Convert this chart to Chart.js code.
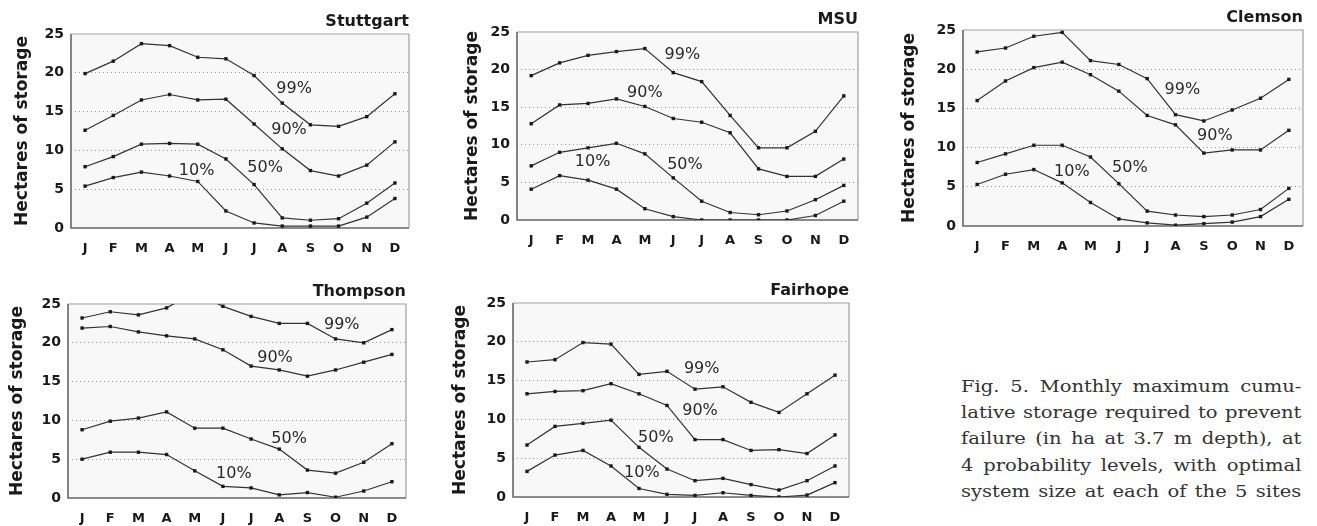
<!DOCTYPE html>
<html lang="en">
<head>
<meta charset="UTF-8">
<title>Fig. 5 Monthly maximum cumulative storage</title>
<script src="https://cdn.jsdelivr.net/npm/chart.js"></script>
<style>
    body { margin: 0; background: #fff; width: 1317px; height: 526px; position: relative; overflow: hidden; }
    .panel { position: absolute; }
    .caption {
        position: absolute; left: 961px; top: 374px; width: 279px;
        font-family: 'DejaVu Serif', serif; font-size: 16px; line-height: 26.2px; color: #333;
        transform: scaleX(1.22); transform-origin: 0 0;
    }
    .caption div { text-align: justify; text-align-last: justify; white-space: nowrap; }
</style>
</head>
<body>
<div class="caption">
    <div>Fig. 5. Monthly maximum cumu-</div>
    <div>lative storage required to prevent</div>
    <div>failure (in ha at 3.7 m depth), at</div>
    <div>4 probability levels, with optimal</div>
    <div>system size at each of the 5 sites</div>
</div>
<script>
// months and probability levels
const months = ['J', 'F', 'M', 'A', 'M', 'J', 'J', 'A', 'S', 'O', 'N', 'D'];
const levels = ['99%', '90%', '50%', '10%'];
const yTicks = [0, 5, 10, 15, 20, 25];

// hectares of storage
const stuttgart99 = [19.9, 21.5, 23.75, 23.5, 22.0, 21.8, 19.65, 16.1, 13.3, 13.1, 14.35, 17.3];
const stuttgart90 = [12.6, 14.5, 16.5, 17.2, 16.5, 16.6, 13.4, 10.2, 7.4, 6.7, 8.1, 11.1];
const stuttgart50 = [7.9, 9.2, 10.8, 10.9, 10.8, 8.9, 5.6, 1.3, 1.0, 1.2, 3.2, 5.8];
const stuttgart10 = [5.4, 6.5, 7.2, 6.7, 6.0, 2.2, 0.65, 0.25, 0.25, 0.25, 1.4, 3.8];

const msu99 = [19.2, 20.9, 21.9, 22.4, 22.8, 19.6, 18.4, 13.9, 9.6, 9.6, 11.8, 16.5];
const msu90 = [12.8, 15.3, 15.5, 16.1, 15.1, 13.5, 13.0, 11.6, 6.8, 5.8, 5.8, 8.1];
const msu50 = [7.2, 9.0, 9.6, 10.2, 8.8, 5.6, 2.5, 1.0, 0.7, 1.2, 2.7, 4.6];
const msu10 = [4.1, 5.9, 5.3, 4.1, 1.5, 0.45, 0, 0, 0, 0, 0.6, 2.5];

const clemson99 = [22.2, 22.7, 24.2, 24.7, 21.1, 20.6, 18.8, 14.2, 13.4, 14.8, 16.3, 18.7];
const clemson90 = [16.0, 18.5, 20.2, 20.9, 19.3, 17.2, 14.1, 12.9, 9.3, 9.7, 9.7, 12.2];
const clemson50 = [8.1, 9.2, 10.3, 10.3, 8.8, 5.4, 1.9, 1.4, 1.2, 1.4, 2.1, 4.8];
const clemson10 = [5.3, 6.6, 7.2, 5.5, 3.0, 0.9, 0.4, 0.1, 0.3, 0.5, 1.2, 3.4];

const thompson99 = [23.2, 24.0, 23.6, 24.5, 26.5, 24.7, 23.4, 22.5, 22.5, 20.5, 20.0, 21.7];
const thompson90 = [21.9, 22.1, 21.4, 20.9, 20.5, 19.1, 17.0, 16.5, 15.7, 16.5, 17.5, 18.5];
const thompson50 = [8.8, 9.9, 10.3, 11.1, 9.0, 9.0, 7.6, 6.3, 3.6, 3.2, 4.6, 7.0];
const thompson10 = [5.0, 5.9, 5.9, 5.6, 3.5, 1.5, 1.3, 0.4, 0.7, 0.1, 0.9, 2.1];

const fairhope99 = [17.4, 17.7, 19.9, 19.7, 15.8, 16.2, 13.9, 14.2, 12.2, 10.9, 13.3, 15.7];
const fairhope90 = [13.3, 13.6, 13.7, 14.6, 13.3, 11.8, 7.4, 7.4, 6.0, 6.1, 5.6, 8.0];
const fairhope50 = [6.7, 9.1, 9.5, 9.9, 6.4, 3.6, 2.1, 2.4, 1.6, 0.9, 2.1, 4.0];
const fairhope10 = [3.3, 5.4, 6.0, 4.0, 1.1, 0.35, 0.2, 0.55, 0.2, 0, 0.25, 1.85];

// where the level labels sit, in [month index, hectares]
const stuttgartLabelAt = [[7.42, 17.95], [7.24, 12.6], [6.39, 7.7], [3.96, 7.4]];
const msuLabelAt = [[5.32, 21.9], [4.0, 16.85], [5.41, 7.36], [2.16, 7.76]];
const clemsonLabelAt = [[7.24, 17.35], [8.39, 11.5], [5.39, 7.36], [3.34, 6.93]];
const thompsonLabelAt = [[9.22, 22.3], [6.85, 18.1], [7.35, 7.56], [5.39, 3.05]];
const fairhopeLabelAt = [[6.24, 16.5], [6.18, 11.1], [4.6, 7.56], [4.1, 3.05]];

const panels = [
    { title: 'Stuttgart', series: [stuttgart99, stuttgart90, stuttgart50, stuttgart10], labelAt: stuttgartLabelAt,
      box: { left: 71, right: 409, top: 34, bottom: 228 }, titleGap: 48 },
    { title: 'MSU', series: [msu99, msu90, msu50, msu10], labelAt: msuLabelAt,
      box: { left: 517, right: 858, top: 32, bottom: 220 }, titleGap: 44 },
    { title: 'Clemson', series: [clemson99, clemson90, clemson50, clemson10], labelAt: clemsonLabelAt,
      box: { left: 963, right: 1303, top: 30, bottom: 226 }, titleGap: 53 },
    { title: 'Thompson', series: [thompson99, thompson90, thompson50, thompson10], labelAt: thompsonLabelAt,
      box: { left: 68, right: 406, top: 304, bottom: 498 }, titleGap: 50 },
    { title: 'Fairhope', series: [fairhope99, fairhope90, fairhope50, fairhope10], labelAt: fairhopeLabelAt,
      box: { left: 513, right: 849, top: 303, bottom: 497 }, titleGap: 52 }
];

const Y_W = 76, PAD_T = 36, PAD_R = 6, X_H = 28;

// plot background, frame, site name and % labels
const panelDecor = {
    id: 'panelDecor',
    beforeDraw(chart) {
        const a = chart.chartArea, ctx = chart.ctx;
        ctx.save();
        ctx.fillStyle = '#f8f8f8';
        ctx.fillRect(a.left, a.top, a.right - a.left, a.bottom - a.top);
        ctx.restore();
    },
    beforeDatasetsDraw(chart) {
        const a = chart.chartArea, ctx = chart.ctx;
        ctx.save();
        ctx.strokeStyle = '#a0a0a0';
        ctx.lineWidth = 1.2;
        ctx.beginPath();
        ctx.moveTo(a.left, a.top); ctx.lineTo(a.right, a.top); ctx.lineTo(a.right, a.bottom);
        ctx.stroke();
        ctx.strokeStyle = '#666';
        ctx.lineWidth = 1.6;
        ctx.beginPath();
        ctx.moveTo(a.left, a.top); ctx.lineTo(a.left, a.bottom); ctx.lineTo(a.right, a.bottom);
        ctx.stroke();
        ctx.restore();
    },
    afterDatasetsDraw(chart, args, opts) {
        const a = chart.chartArea, ctx = chart.ctx;
        const xs = chart.scales.x, ys = chart.scales.y;
        ctx.save();
        ctx.fillStyle = '#1a1a1a';
        ctx.font = 'bold 16px "DejaVu Sans"';
        ctx.textAlign = 'right';
        ctx.textBaseline = 'alphabetic';
        ctx.fillText(opts.title, a.right, a.top - 8);
        ctx.font = '16px "DejaVu Sans"';
        ctx.fillStyle = '#2a2a2a';
        ctx.textAlign = 'center';
        ctx.textBaseline = 'middle';
        opts.labelAt.forEach((p, i) => {
            ctx.fillText(levels[i], xs.getPixelForValue(p[0]), ys.getPixelForValue(p[1]));
        });
        ctx.restore();
    }
};

panels.forEach(p => {
    const w = p.box.right - p.box.left + Y_W + PAD_R;
    const h = p.box.bottom - p.box.top + PAD_T + X_H;
    const div = document.createElement('div');
    div.className = 'panel';
    div.style.left = (p.box.left - Y_W) + 'px';
    div.style.top = (p.box.top - PAD_T) + 'px';
    div.style.width = w + 'px';
    div.style.height = h + 'px';
    const canvas = document.createElement('canvas');
    canvas.width = w;
    canvas.height = h;
    div.appendChild(canvas);
    document.body.appendChild(div);

    new Chart(canvas, {
        type: 'line',
        data: {
            labels: months,
            datasets: p.series.map((s, i) => ({
                label: levels[i],
                data: s,
                borderColor: '#333',
                borderWidth: 1.2,
                pointStyle: 'rect',
                pointRadius: 2.4,
                pointBackgroundColor: '#1a1a1a',
                pointBorderWidth: 0,
                tension: 0,
                fill: false
            }))
        },
        options: {
            responsive: false,
            animation: false,
            layout: { padding: { top: PAD_T, right: PAD_R, left: 0, bottom: 0 } },
            plugins: {
                legend: { display: false },
                tooltip: { enabled: false },
                panelDecor: { title: p.title, labelAt: p.labelAt }
            },
            scales: {
                x: {
                    offset: true,
                    grid: { display: false },
                    border: { display: false },
                    ticks: { color: '#1a1a1a', padding: 5, maxRotation: 0, autoSkip: false,
                             font: { family: 'DejaVu Sans', size: 13, weight: 'bold' } },
                    afterFit: s => { s.height = X_H; }
                },
                y: {
                    min: yTicks[0],
                    max: yTicks[yTicks.length - 1],
                    afterBuildTicks: s => { s.ticks = yTicks.map(v => ({ value: v })); },
                    grid: {
                        drawTicks: false,
                        lineWidth: 1,
                        color: c => (c.tick.value === 0 || c.tick.value === 25) ? 'rgba(0,0,0,0)' : '#9a9a9a'
                    },
                    border: { display: false, dash: [1, 3] },
                    ticks: { color: '#1a1a1a', padding: 7,
                             font: { family: 'DejaVu Sans', size: 14, weight: 'bold' } },
                    title: {
                        display: true,
                        text: 'Hectares of storage',
                        color: '#1a1a1a',
                        font: { family: 'DejaVu Sans', size: 17, weight: 'bold' },
                        padding: { top: Y_W - p.titleGap - 10.2, bottom: 0 }
                    },
                    afterFit: s => { s.width = Y_W; }
                }
            }
        },
        plugins: [panelDecor]
    });
});
</script>
</body>
</html>
